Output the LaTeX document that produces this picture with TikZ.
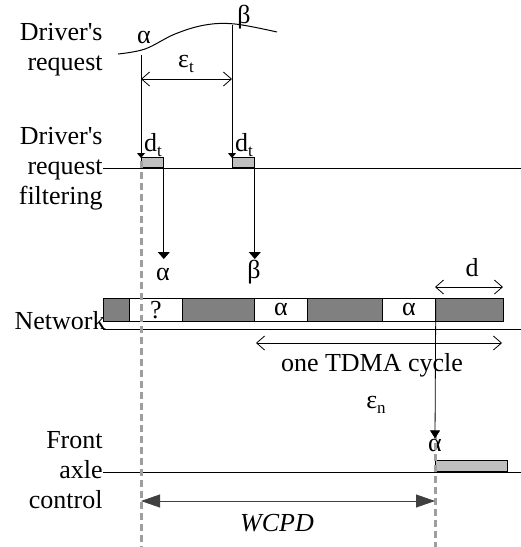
\documentclass[tikz,border=0pt]{standalone}
\usepackage{fontspec}
\setmainfont{Liberation Serif}
\usetikzlibrary{arrows.meta,positioning}
\definecolor{boxgray}{gray}{0.75}
\definecolor{netgray}{gray}{0.5}
\definecolor{dashgray}{gray}{0.62}
\newcommand\lowsub[1]{\raisebox{-0.4ex}{\fontsize{17}{17}\selectfont #1}}
\newcommand\drv{Driver\textquotesingle s}

\begin{document}
\begin{tikzpicture}[x=1pt,y=-1pt,line width=0.8pt,
                    font=\fontsize{26}{30}\selectfont]
  \tikzstyle{every node}=[inner sep=0pt]
  \tikzstyle{lane}=[align=right,anchor=east]
  \tikzstyle{smallbox}=[draw=black,fill=boxgray,minimum width=22pt,minimum height=10pt,anchor=south west]
  \tikzstyle{slot}=[draw=black,fill=white,minimum width=53pt,minimum height=23pt,anchor=north west]
  \tikzstyle{dim}=[{Straight Barb[length=8pt,width=14pt]}-{Straight Barb[length=8pt,width=14pt]}]
  \tikzstyle{reqarrow}=[-{Triangle[length=5pt,width=8pt]}]
  \tikzstyle{outarrow}=[-{Triangle[length=7pt,width=12pt]}]
  \tikzstyle{guide}=[draw=dashgray,line width=3pt,dash pattern=on 7pt off 4pt]
  \useasboundingbox (0,0) rectangle (521,547);

  % lane labels
  \node[lane] (lreq) at (103,50)  {\drv\\request};
  \node[lane] (lflt) at (103,169) {\drv\\request\\filtering};
  \node[lane] (lnet) at (106,321) {Network};
  \node[lane] (lfac) at (103,470) {Front\\axle\\control};

  % driver's request
  \draw[line width=1pt] plot[smooth,tension=0.6] coordinates
        {(118,54) (145,49) (175,34) (205,25) (235,24) (277,32)};
  \coordinate (reqA) at (141,55);
  \coordinate (reqB) at (232,25);
  \node (alpha1) at (144,37) {α};
  \node (beta1)  at (244,17) {β};
  \coordinate (epsL) at (141,79);
  \coordinate (epsR) at (232,79);
  \draw[dim] (epsL) -- (epsR);
  \node (epst) at (186,64) {ε\lowsub{t}};

  % filtering
  \coordinate (fltL) at (103,168);
  \coordinate (fltR) at (521,168);
  \draw (fltL) -- (fltR);
  \node[smallbox] (fltA) at (141,168) {};
  \node[smallbox] (fltB) at (232,168) {};
  \coordinate (hitA) at (141,158);
  \coordinate (hitB) at (232,158);
  \draw[reqarrow] (reqA) -- (hitA);
  \draw[reqarrow] (reqB) -- (hitB);
  \node (dtA) at (153,145) {d\lowsub{t}};
  \node (dtB) at (244,145) {d\lowsub{t}};
  \node (alpha2) at (163,274) {α};
  \node (beta2)  at (254,272) {β};
  \draw[outarrow] (fltA.south east) -- ++(0,91);
  \draw[outarrow] (fltB.south east) -- ++(0,91);

  % network
  \node[draw=black,fill=netgray,minimum width=400pt,minimum height=23pt,anchor=north west] (net) at (103,298) {};
  \node[slot] (slot1) at (129,298) {?};
  \node[slot] (slot2) at (254,298) {α};
  \node[slot] (slot3) at (382,298) {α};
  \coordinate (netL) at (103,329);
  \coordinate (netR) at (521,329);
  \draw (netL) -- (netR);
  \coordinate (dL) at (435,287);
  \coordinate (dR) at (503,287);
  \draw[dim] (dL) -- (dR);
  \node (dlab) at (472,268) {d};
  \coordinate (cycL) at (256,343);
  \coordinate (cycR) at (502,343);
  \draw[dim] (cycL) -- (cycR);
  \node (cyc) at (372,365) {one TDMA cycle};
  \node (epsn) at (376,405) {ε\lowsub{n}};

  % front axle control
  \coordinate (facL) at (103,472);
  \coordinate (facR) at (521,472);
  \draw (facL) -- (facR);
  \node[smallbox,minimum width=72pt,minimum height=11pt] (ctrl) at (435,472) {};
  \node (alpha3) at (435,445) {α};

  % guide lines
  \coordinate (gA) at (141,161);
  \coordinate (gAend) at (141,547);
  \coordinate (gB) at (435,432);
  \coordinate (gBend) at (435,547);
  \draw[guide] (gA) -- (gAend);
  \draw[guide] (gB) -- (gBend);
  \draw[-{Triangle[length=8pt,width=10pt]}] ([yshift=-2pt]slot3.north east) -- (alpha3.north);

  % worst case
  \coordinate (wL) at (141,501);
  \coordinate (wR) at (435,501);
  \draw[{Triangle[length=19pt,width=13pt]}-{Triangle[length=19pt,width=13pt]},black!75] (wL) -- (wR);
  \node (wcpd) at (277,523) {\itshape WCPD};
\end{tikzpicture}
\end{document}
